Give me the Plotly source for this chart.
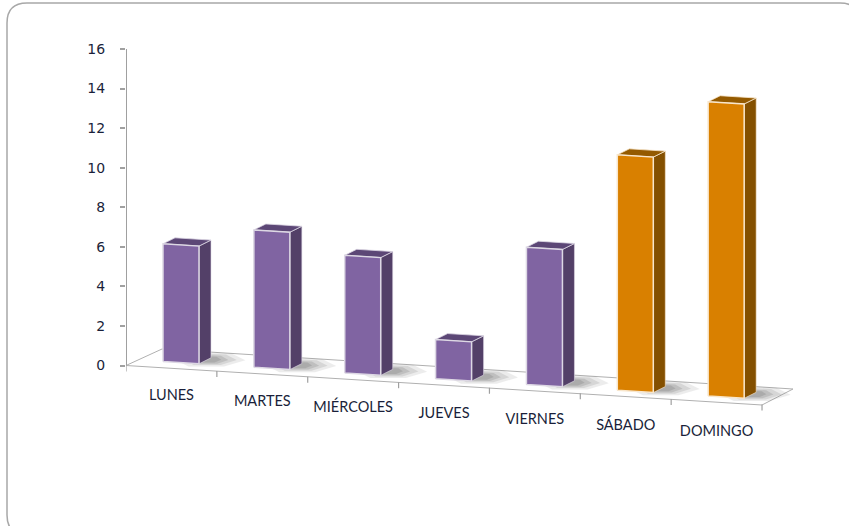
import plotly.graph_objects as go

categories = ["LUNES", "MARTES", "MIÉRCOLES", "JUEVES", "VIERNES", "SÁBADO", "DOMINGO"]
values = [6, 7, 6, 2, 7, 12, 15]
y_ticks = [0, 2, 4, 6, 8, 10, 12, 14, 16]

FRONT = ["#8064A2"] * 5 + ["#D98000"] * 2
SIDE = ["#534068"] * 5 + ["#845000"] * 2
TOP = ["#5C4776"] * 5 + ["#945A00"] * 2
EDGE = ["#DDD8E4"] * 5 + ["#F8E6CC"] * 2

W, H = 849, 526
L, R, T, B = 126, 800, 40, 450     # plot area in px
UX = 90.86                          # px per category
UY = 19.78                          # px per value unit
Y0 = 365.5                          # px of value 0

DROP = 5.75 / UY   # floor slope, units per category
LIFT = 6.3 / UY    # front of the bars above the floor's front edge
BAR_LEFT = 37 / UX
BAR_W = 36 / UX
DEPTH_X = 12 / UX
DEPTH_Y = 6 / UY
BAR_SCALE = 0.992  # bars stand a little further back than the value axis


def px(x):
    return (x - L) / UX


def py(y):
    return (Y0 - y) / UY


def floor(x):
    return LIFT - DROP * x


def poly(fig, pts, fill, line=None, width=1.0, opacity=1.0):
    xs = [p[0] for p in pts] + [pts[0][0]]
    ys = [p[1] for p in pts] + [pts[0][1]]
    fig.add_trace(go.Scatter(
        x=xs, y=ys, mode="lines", fill="toself", fillcolor=fill, opacity=opacity,
        line=dict(color=line or fill, width=width if line else 0),
        hoverinfo="skip", showlegend=False))


fig = go.Figure()

# floor
fl = [(px(126), py(365.5)), (px(162), py(349)), (px(793), py(389)), (px(762), py(405))]
fig.add_trace(go.Scatter(
    x=[p[0] for p in fl] + [fl[0][0]], y=[p[1] for p in fl] + [fl[0][1]],
    mode="lines", line=dict(color="#B0B0B0", width=1), hoverinfo="skip", showlegend=False))

# soft shadows on the floor
for i, v in enumerate(values):
    x0 = i + BAR_LEFT
    x1 = x0 + BAR_W
    b = floor(x1)
    for grow, alpha in [(1.0, 0.14), (0.72, 0.20), (0.45, 0.26), (0.22, 0.30)]:
        cx = x1 + 0.12
        cy = b + 0.22
        rx, ry = 0.34 * grow + 0.05, 0.30 * grow + 0.10
        poly(fig, [(cx - rx, cy), (cx - rx * 0.5, cy + ry), (cx + rx * 0.6, cy + ry * 0.8),
                   (cx + rx, cy - ry * 0.1), (cx + rx * 0.4, cy - ry * 0.9), (cx - rx * 0.6, cy - ry * 0.9)],
             "#808080", opacity=alpha)

# bars
for i, v in enumerate(values):
    x0 = i + BAR_LEFT
    x1 = x0 + BAR_W
    b0, b1 = floor(x0), floor(x1)
    t0, t1 = b0 + v * BAR_SCALE, b1 + v * BAR_SCALE
    poly(fig, [(x1, b1), (x1 + DEPTH_X, b1 + DEPTH_Y), (x1 + DEPTH_X, t1 + DEPTH_Y), (x1, t1)], SIDE[i], EDGE[i], 0.6)
    poly(fig, [(x0, t0), (x1, t1), (x1 + DEPTH_X, t1 + DEPTH_Y), (x0 + DEPTH_X, t0 + DEPTH_Y)], TOP[i], EDGE[i], 0.8)
    poly(fig, [(x0, b0), (x1, b1), (x1, t1), (x0, t0)], FRONT[i], EDGE[i], 1.5)

# value axis line
fig.add_trace(go.Scatter(x=[0, 0], y=[0, y_ticks[-1]], mode="lines",
                         line=dict(color="#A0A0A0", width=2), hoverinfo="skip", showlegend=False))

# category ticks on the front edge of the floor
tx, ty = [], []
for i in range(len(categories) + 1):
    yy = py(365.5) - 5.57 / UY * i
    tx += [i, i, None]
    ty += [yy, yy - 6 / UY, None]
fig.add_trace(go.Scatter(x=tx, y=ty, mode="lines", line=dict(color="#A0A0A0", width=1.2),
                         hoverinfo="skip", showlegend=False))

# category labels following the floor
fig.add_trace(go.Scatter(
    x=[i + 0.5 for i in range(len(categories))],
    y=[py(396.5) - 6 / UY * i for i in range(len(categories))],
    mode="text", text=categories, textposition="middle center",
    textfont=dict(family="Lato", size=14.5, color="#1A1F3A"),
    hoverinfo="skip", showlegend=False, cliponaxis=False))


def rx_(p):
    return (p - L) / (R - L)


def ry_(p):
    return 1 - (p - T) / (B - T)


r = 20
lft, rgt, top, bot = 7, 860, 3, 535
path = (f"M {rx_(lft)} {ry_(bot - r)} L {rx_(lft)} {ry_(top + r)} "
        f"Q {rx_(lft)} {ry_(top)} {rx_(lft + r)} {ry_(top)} "
        f"L {rx_(rgt - r)} {ry_(top)} Q {rx_(rgt)} {ry_(top)} {rx_(rgt)} {ry_(top + r)} "
        f"L {rx_(rgt)} {ry_(bot - r)} Q {rx_(rgt)} {ry_(bot)} {rx_(rgt - r)} {ry_(bot)} "
        f"L {rx_(lft + r)} {ry_(bot)} Q {rx_(lft)} {ry_(bot)} {rx_(lft)} {ry_(bot - r)} Z")

fig.update_layout(
    width=W, height=H,
    margin=dict(l=L, r=W - R, t=T, b=H - B, pad=0),
    paper_bgcolor="white", plot_bgcolor="rgba(0,0,0,0)",
    showlegend=False,
    xaxis=dict(range=[0, (R - L) / UX], visible=False, fixedrange=True),
    yaxis=dict(range=[py(B), py(T)], tickmode="array", tickvals=y_ticks,
               ticktext=[str(t) for t in y_ticks], ticks="outside", ticklen=5,
               tickcolor="#A0A0A0", tickwidth=1.5, showline=False, showgrid=False,
               zeroline=False, ticklabelstandoff=12,
               tickfont=dict(family="DejaVu Sans", size=14, color="#1A1F3A"), fixedrange=True),
    shapes=[dict(type="path", xref="paper", yref="paper", path=path,
                 line=dict(color="#A8A8A8", width=1.5), layer="below")],
)

fig.write_html("out.html", config=dict(displayModeBar=False),
               post_script="document.body.style.margin='0';")
